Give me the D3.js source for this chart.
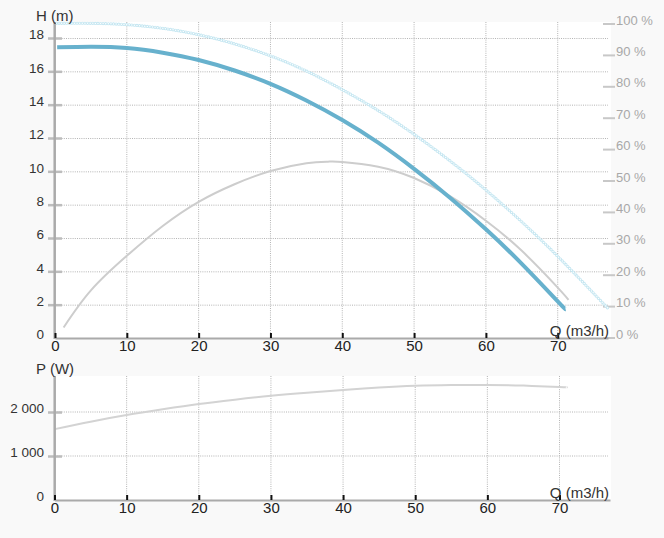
<!DOCTYPE html>
<html><head><meta charset="utf-8">
<script src="https://cdn.jsdelivr.net/npm/d3@7"></script>
<style>
body{margin:0;background:#f9f9f9;}
svg{display:block;font-family:"Liberation Sans",Arial,sans-serif;}
</style></head><body>
<svg id="c" width="664" height="538"></svg>
<script>
// ---- data ----
const qTicks = [0, 10, 20, 30, 40, 50, 60, 70];
const hTicks = [0, 2, 4, 6, 8, 10, 12, 14, 16, 18];
const pctTicks = [0, 10, 20, 30, 40, 50, 60, 70, 80, 90, 100];
const pTicks = [0, 1000, 2000];

const headQ = [0.3, 5, 10, 15, 20, 25, 30, 35, 40, 45, 50, 55, 60, 65, 70, 71.1];
const headH = [17.44, 17.47, 17.4, 17.12, 16.68, 16.05, 15.25, 14.25, 13.08, 11.72, 10.15, 8.42, 6.52, 4.45, 2.2, 1.72];

const maxQ = [0.2, 5, 10, 15, 20, 25, 30, 35, 40, 45, 50, 55, 60, 65, 70, 75, 77];
const maxH = [18.88, 18.88, 18.8, 18.58, 18.2, 17.65, 16.93, 16.02, 14.9, 13.65, 12.22, 10.63, 8.88, 6.97, 4.9, 2.68, 1.78];

const effQ = [1.2, 5, 10, 15, 20, 25, 30, 35, 38, 40, 45, 50, 55, 60, 65, 70, 71.5];
const effV = [3.2, 15, 26, 35.5, 43.2, 48.8, 53, 55.5, 56, 55.9, 54.4, 50.8, 45, 37.2, 27.6, 15.9, 12];

const powQ = [0, 5, 10, 15, 20, 25, 30, 35, 40, 45, 50, 55, 60, 65, 70, 71];
const powW = [1610, 1780, 1930, 2060, 2180, 2280, 2370, 2440, 2500, 2555, 2595, 2612, 2615, 2600, 2570, 2562];

// ---- scales ----
const svg = d3.select("#c");
const xT = d3.scaleLinear().domain([0, 77]).range([55, 608]);
const yH = d3.scaleLinear().domain([0, 18]).range([338, 38]);
const yPct = d3.scaleLinear().domain([0, 100]).range([337.5, 23.5]);
const xB = d3.scaleLinear().domain([0, 77]).range([54.5, 610]);
const yP = d3.scaleLinear().domain([0, 2800]).range([500, 376.8]);

const loc = d3.formatLocale({decimal: ".", thousands: " ", grouping: [3], currency: ["", ""]});
const fmtP = loc.format(",");

// plot backgrounds
svg.append("rect").attr("x", 55).attr("y", 22).attr("width", 556).attr("height", 316).attr("fill", "#fff");
svg.append("rect").attr("x", 55).attr("y", 376).attr("width", 556).attr("height", 124).attr("fill", "#fff");

// grids
const grid = svg.append("g").attr("stroke", "#b4b4b4").attr("stroke-width", 1).attr("stroke-dasharray", "1,1.2");
grid.selectAll(".hg").data(hTicks.filter(d => d > 0)).join("line")
  .attr("x1", 55).attr("x2", 608).attr("y1", d => yH(d) + 0.5).attr("y2", d => yH(d) + 0.5);
grid.selectAll(".vg").data(qTicks.filter(d => d > 0)).join("line").attr("class", "vg")
  .attr("x1", d => xT(d)).attr("x2", d => xT(d)).attr("y1", 22).attr("y2", 338);
grid.selectAll(".hg2").data(pTicks.filter(d => d > 0)).join("line").attr("class", "hg2")
  .attr("x1", 55).attr("x2", 608).attr("y1", d => yP(d)).attr("y2", d => yP(d));
grid.selectAll(".vg2").data(qTicks.filter(d => d > 0)).join("line").attr("class", "vg2")
  .attr("x1", d => xB(d)).attr("x2", d => xB(d)).attr("y1", 376).attr("y2", 500);

// right % axis
const ra = svg.append("g").attr("transform", "translate(603,0)")
  .call(d3.axisRight(yPct).tickValues(pctTicks).tickSize(12).tickFormat(d => d + " %"));
ra.select(".domain").remove();
ra.selectAll(".tick line").attr("stroke", "#c8c8c8").attr("stroke-width", 2);
ra.selectAll(".tick text").attr("x", 13).attr("dy", "0.05em").attr("fill", "#a8a8a8")
  .attr("font-size", 13).attr("font-family", "Liberation Sans, Arial, sans-serif");

// curves
const line = (xs, ys) => d3.line().curve(d3.curveNatural).x(d => xs(d[0])).y(d => ys(d[1]));
const effData = effQ.map((q, i) => [q, effV[i]]);
const maxData = maxQ.map((q, i) => [q, maxH[i]]);
const headData = headQ.map((q, i) => [q, headH[i]]);
const powData = powQ.map((q, i) => [q, powW[i]]);

svg.append("path").attr("d", line(xT, yPct)(effData)).attr("fill", "none")
  .attr("stroke", "#cdcdcd").attr("stroke-width", 2);
svg.append("path").attr("d", line(xT, yH)(maxData)).attr("fill", "none")
  .attr("stroke", "#c4e6f1").attr("stroke-width", 3.2).attr("stroke-linecap", "round").attr("stroke-dasharray", "0,2.6");
svg.append("path").attr("d", line(xT, yH)(maxData)).attr("fill", "none")
  .attr("stroke", "#fcfeff").attr("stroke-width", 1.5).attr("stroke-linecap", "round").attr("stroke-dasharray", "0,2.6");
svg.append("path").attr("d", line(xT, yH)(headData)).attr("fill", "none")
  .attr("stroke", "#67b1cd").attr("stroke-width", 4);
svg.append("path").attr("d", line(xB, yP)(powData)).attr("fill", "none")
  .attr("stroke", "#d3d3d3").attr("stroke-width", 2);

// left axes
function styleLeft(g) {
  g.select(".domain").remove();
  g.selectAll(".tick line").attr("x1", -7).attr("x2", 7).attr("stroke", "#bdbdbd").attr("stroke-width", 2.5);
  g.selectAll(".tick text").attr("x", -11).attr("dy", "0.05em").attr("fill", "#333")
    .attr("font-size", 13.5).attr("font-family", "Liberation Sans, Arial, sans-serif");
}
const la = svg.append("g").attr("transform", "translate(55,0)")
  .call(d3.axisLeft(yH).tickValues(hTicks).tickFormat(d3.format("d")));
styleLeft(la);
la.selectAll(".tick").filter(d => d === 0).select("line").remove();
const lb = svg.append("g").attr("transform", "translate(55,0)")
  .call(d3.axisLeft(yP).tickValues(pTicks).tickFormat(fmtP));
styleLeft(lb);
lb.selectAll(".tick").filter(d => d === 0).select("line").remove();

// axis lines
svg.append("line").attr("x1", 54.7).attr("x2", 54.7).attr("y1", 22).attr("y2", 339).attr("stroke", "#aaa").attr("stroke-width", 2.5);
svg.append("line").attr("x1", 54.7).attr("x2", 54.7).attr("y1", 376).attr("y2", 501).attr("stroke", "#aaa").attr("stroke-width", 2.5);

// bottom axes
function styleBottom(g) {
  g.select(".domain").attr("stroke", "#aaa").attr("stroke-width", 2);
  g.selectAll(".tick line").attr("y1", -5).attr("y2", 0).attr("stroke", "#111").attr("stroke-width", 2);
  g.selectAll(".tick text").attr("y", 2).attr("dy", "0.75em").attr("fill", "#222")
    .attr("font-size", 15).attr("font-family", "Liberation Sans, Arial, sans-serif");
}
const xa = svg.append("g").attr("transform", "translate(0,338)")
  .call(d3.axisBottom(xT).tickValues(qTicks).tickSizeOuter(0));
styleBottom(xa);
const xb = svg.append("g").attr("transform", "translate(0,500)")
  .call(d3.axisBottom(xB).tickValues(qTicks).tickSizeOuter(0));
styleBottom(xb);

// titles
const t = svg.append("g").attr("fill", "#333").attr("font-size", 15);
t.append("text").attr("x", 36).attr("y", 20.5).text("H (m)");
t.append("text").attr("x", 36).attr("y", 373.5).text("P (W)");
t.append("text").attr("x", 609).attr("y", 335.5).attr("text-anchor", "end").text("Q (m3/h)");
t.append("text").attr("x", 609).attr("y", 497.5).attr("text-anchor", "end").text("Q (m3/h)");
</script>
</body></html>
